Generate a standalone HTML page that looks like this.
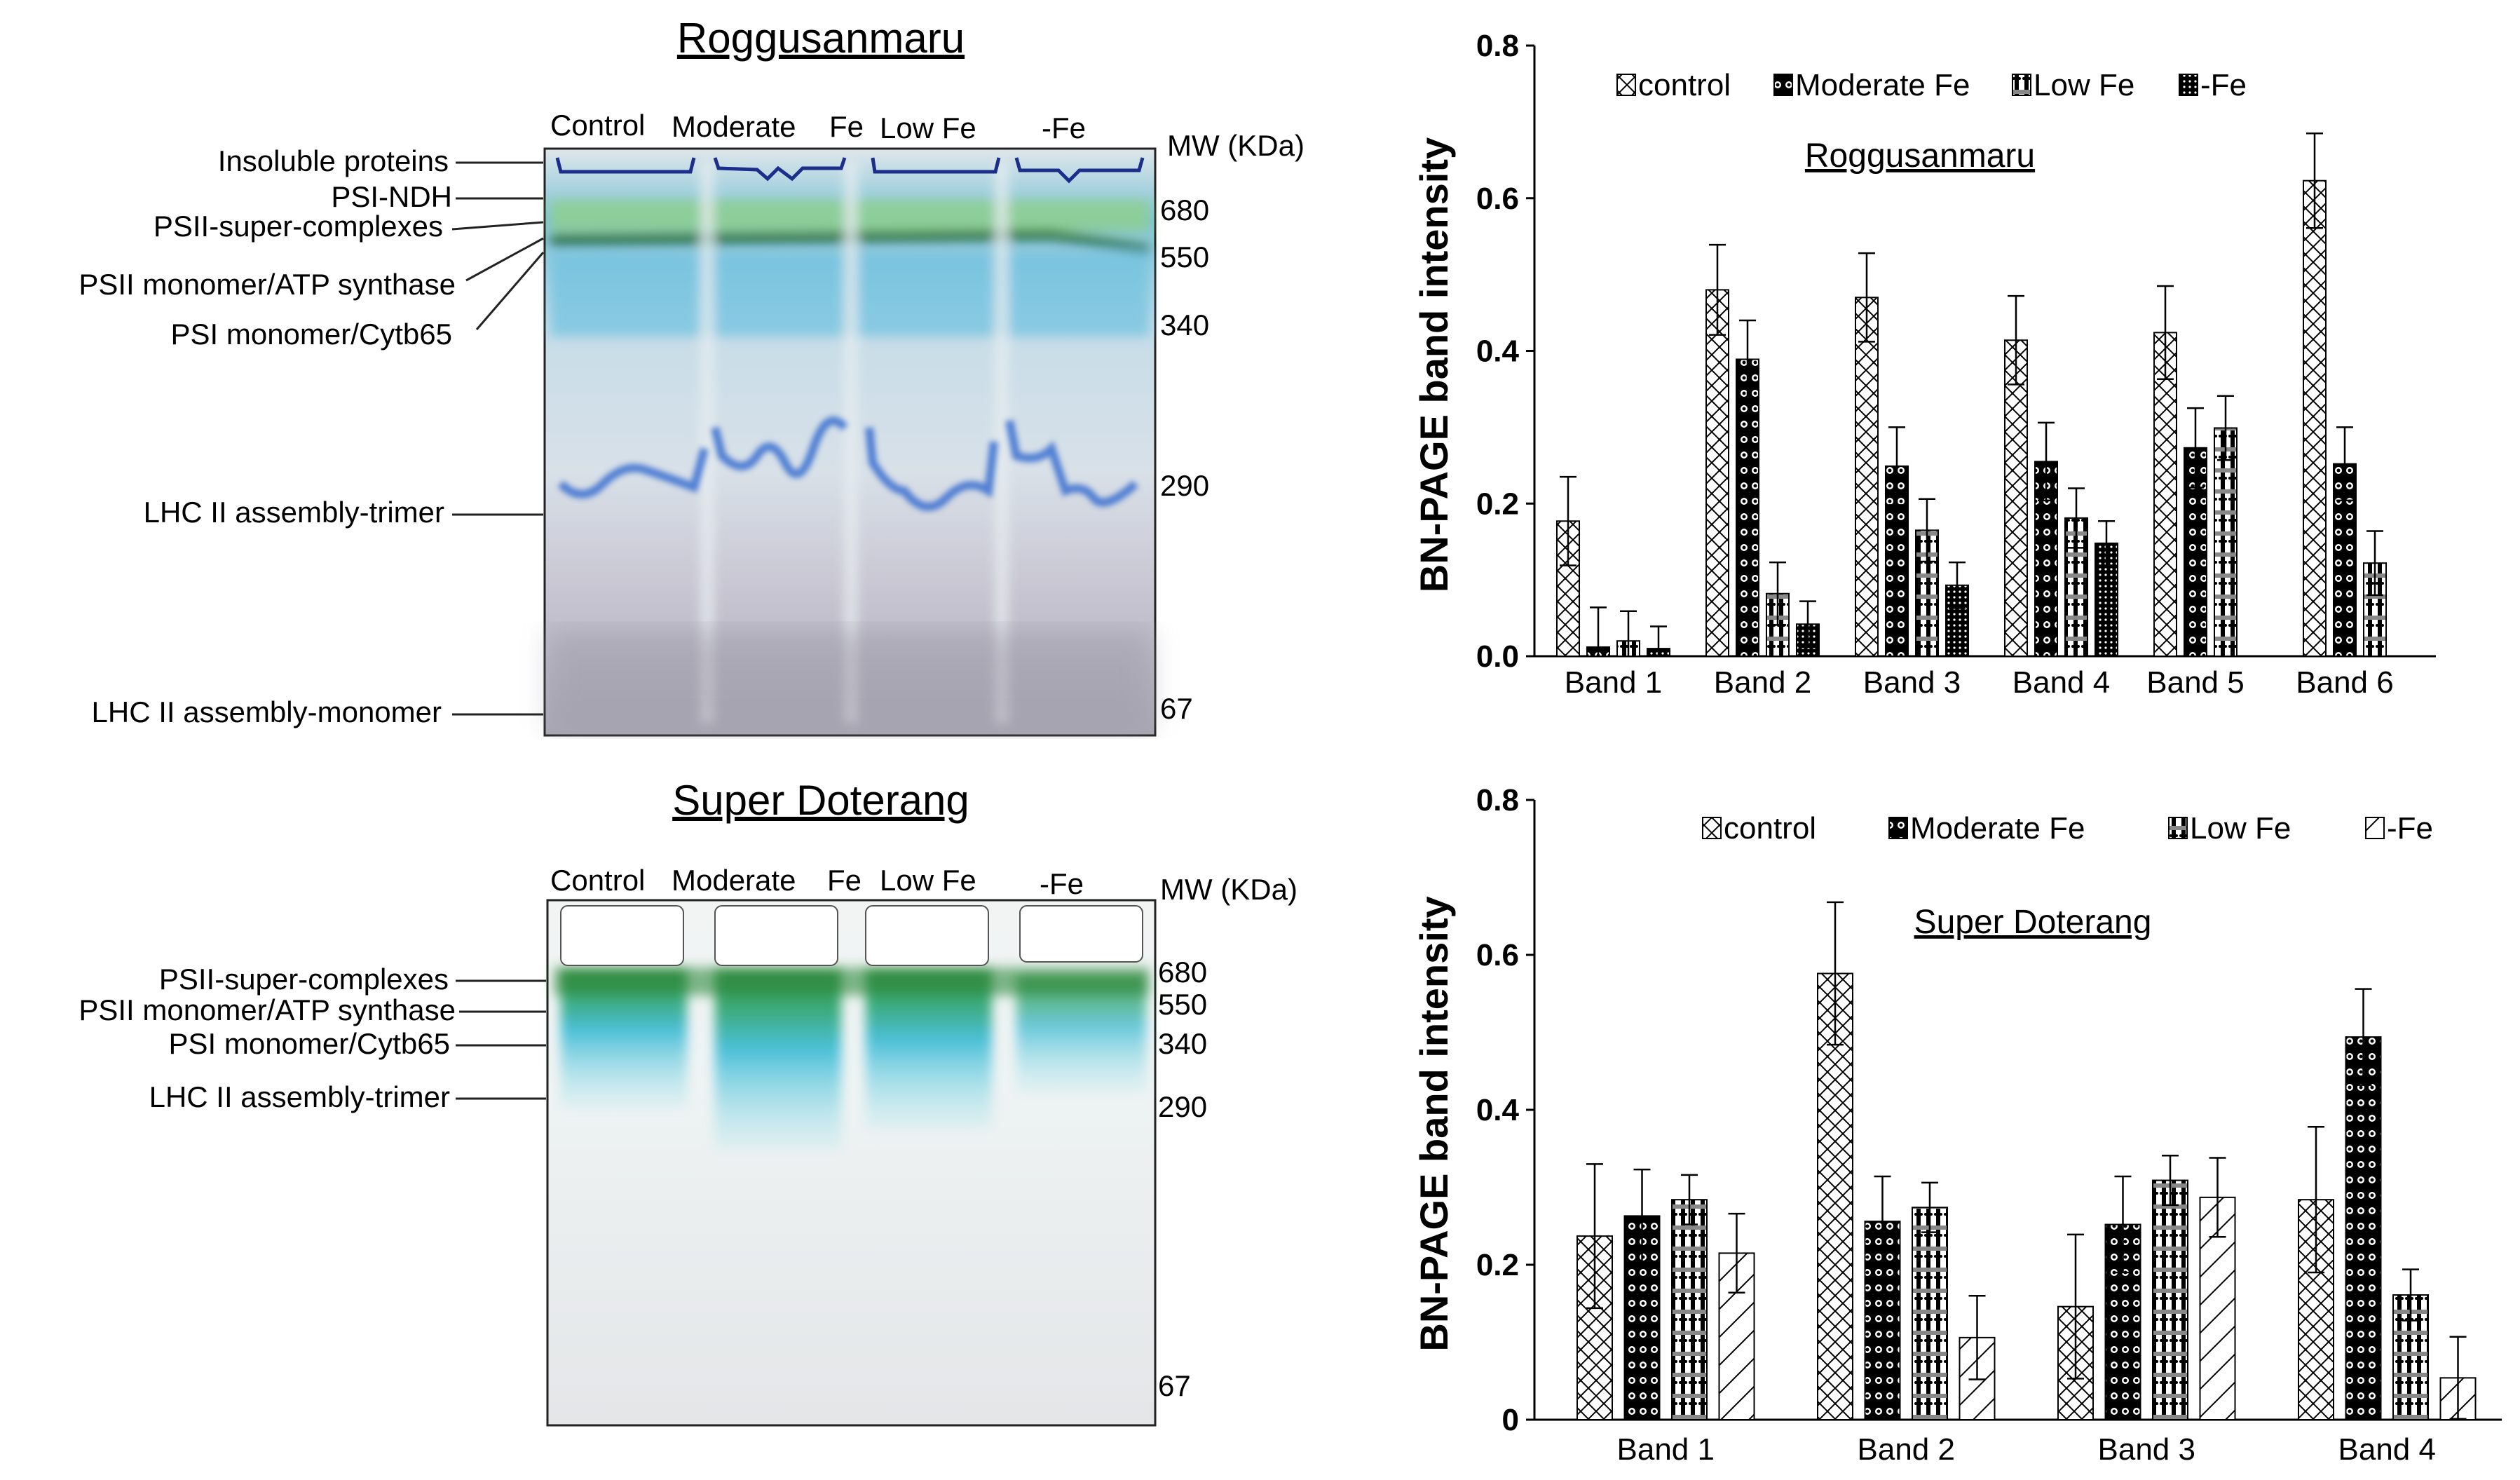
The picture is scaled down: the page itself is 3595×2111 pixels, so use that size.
<!DOCTYPE html>
<html><head><meta charset="utf-8"><style>
body{margin:0;background:#fff;}
svg{display:block;font-family:"Liberation Sans",Arial,sans-serif;}
</style></head><body>
<svg id="fig" width="3595" height="2111" viewBox="0 0 3595 2111" xmlns="http://www.w3.org/2000/svg">
<defs>
<filter id="blur8"><feGaussianBlur stdDeviation="8"/></filter>
<filter id="blur4"><feGaussianBlur stdDeviation="4"/></filter>
<filter id="blur20"><feGaussianBlur stdDeviation="20"/></filter>
<linearGradient id="gelTopBg" x1="0" y1="0" x2="0" y2="1">
<stop offset="0" stop-color="#dfe6ea"/><stop offset="0.12" stop-color="#7fc4d8"/><stop offset="0.3" stop-color="#c6dde8"/><stop offset="0.55" stop-color="#d8e0e8"/><stop offset="0.75" stop-color="#c8c6d2"/><stop offset="1" stop-color="#a9a8b4"/>
</linearGradient>
<linearGradient id="gelBotBg" x1="0" y1="0" x2="0" y2="1">
<stop offset="0" stop-color="#f2f4f4"/><stop offset="0.35" stop-color="#eef3f3"/><stop offset="1" stop-color="#e4e6e8"/>
</linearGradient>
<linearGradient id="smear" x1="0" y1="0" x2="0" y2="1">
<stop offset="0" stop-color="#2f8a3e"/><stop offset="0.2" stop-color="#3aa870"/><stop offset="0.45" stop-color="#4cc0d8"/><stop offset="1" stop-color="#bfeaf0" stop-opacity="0.3"/>
</linearGradient>
<pattern id="pCross" width="22" height="22" patternUnits="userSpaceOnUse"><rect width="22" height="22" fill="#fff"/><path d="M0,0L22,22M22,0L0,22" stroke="#000" stroke-width="2"/></pattern>
<pattern id="pCircle" width="16" height="22" patternUnits="userSpaceOnUse"><rect width="16" height="22" fill="#000"/><circle cx="8" cy="11" r="5" fill="#fff"/><circle cx="8" cy="11" r="2.5" fill="#000"/></pattern>
<pattern id="pLow" width="14" height="30" patternUnits="userSpaceOnUse"><rect width="14" height="30" fill="#fff"/><rect x="4" y="0" width="6" height="30" fill="#000"/><rect x="0" y="8" width="14" height="6" fill="#888"/><circle cx="3" cy="22" r="2" fill="#000"/><circle cx="11" cy="22" r="2" fill="#000"/></pattern>
<pattern id="pDots" width="8" height="8" patternUnits="userSpaceOnUse"><rect width="8" height="8" fill="#000"/><circle cx="4" cy="4" r="1.6" fill="#fff"/></pattern>
<pattern id="pDiag" width="40" height="40" patternUnits="userSpaceOnUse"><rect width="40" height="40" fill="#fff"/><path d="M0,40L40,0M-10,10L10,-10M30,50L50,30" stroke="#000" stroke-width="2"/></pattern>
</defs>

<g>
<text x="1171" y="75" font-size="60" text-anchor="middle" text-decoration="underline">Roggusanmaru</text>
<rect x="777" y="212" width="871" height="837" fill="url(#gelTopBg)" stroke="#222" stroke-width="3"/>
<g filter="url(#blur8)">
<rect x="785" y="285" width="855" height="45" fill="#8fd08a" opacity="0.8"/>
<path d="M785,335 L1500,328 L1640,350 L1640,360 L1500,342 L785,350 Z" fill="#1d6a3a"/>
<rect x="785" y="360" width="855" height="120" fill="#6cc0e0" opacity="0.7"/>
<rect x="1000" y="230" width="18" height="800" fill="#e8eef0" opacity="0.8"/>
<rect x="1205" y="230" width="18" height="800" fill="#e8eef0" opacity="0.8"/>
<rect x="1420" y="230" width="18" height="800" fill="#e8eef0" opacity="0.8"/>
</g>
<g fill="none" stroke="#3a6fd0" stroke-width="12" opacity="0.85" filter="url(#blur4)">
<path d="M800,690 Q830,720 860,690 T920,670 T990,695 L1005,640"/>
<path d="M1020,610 L1030,650 Q1060,680 1080,650 T1120,660 T1160,640 T1205,610"/>
<path d="M1240,610 L1245,660 Q1270,700 1290,700 Q1320,740 1350,710 T1410,700 L1418,630"/>
<path d="M1440,600 L1450,650 Q1480,660 1500,640 L1520,700 Q1545,690 1560,710 T1620,690"/>
</g>
<g fill="none" stroke="#1a2e8a" stroke-width="5">
<path d="M795,225 L800,245 L985,245 L990,225"/>
<path d="M1020,225 L1025,240 L1080,242 L1095,255 L1110,240 L1130,255 L1145,240 L1200,240 L1205,225"/>
<path d="M1245,225 L1248,245 L1420,245 L1425,225"/>
<path d="M1450,225 L1455,243 L1510,243 L1525,258 L1540,243 L1625,243 L1630,225"/>
</g>
<rect x="785" y="900" width="855" height="140" fill="#9e9aa8" opacity="0.5" filter="url(#blur20)"/>
<g font-size="42">
<text x="785" y="193">Control</text><text x="958" y="195">Moderate</text><text x="1183" y="195">Fe</text><text x="1255" y="197">Low Fe</text><text x="1486" y="197">-Fe</text>
<text x="1665" y="222">MW (KDa)</text>
</g>
<g font-size="42">
<text x="1655" y="314">680</text><text x="1655" y="381">550</text><text x="1655" y="478">340</text><text x="1655" y="707">290</text><text x="1655" y="1025">67</text>
</g>
<g font-size="42" text-anchor="end">
<text x="640" y="244">Insoluble  proteins</text>
<text x="645" y="295">PSI-NDH</text>
<text x="632" y="337">PSII-super-complexes</text>
<text x="650" y="420">PSII monomer/ATP  synthase</text>
<text x="645" y="491">PSI monomer/Cytb65</text>
<text x="634" y="745">LHC II assembly-trimer</text>
<text x="630" y="1030">LHC II assembly-monomer</text>
</g>
<g stroke="#222" stroke-width="3">
<line x1="650" y1="232" x2="775" y2="232"/><line x1="650" y1="283" x2="775" y2="283"/>
<line x1="645" y1="327" x2="775" y2="317"/><line x1="665" y1="400" x2="775" y2="340"/>
<line x1="680" y1="470" x2="775" y2="360"/><line x1="645" y1="734" x2="775" y2="734"/>
<line x1="645" y1="1019" x2="775" y2="1019"/>
</g>
</g>

<g>
<text x="1171" y="1162" font-size="60" text-anchor="middle" text-decoration="underline">Super Doterang</text>
<rect x="781" y="1284" width="867" height="749" fill="url(#gelBotBg)" stroke="#222" stroke-width="3"/>
<g filter="url(#blur8)">
<rect x="800" y="1380" width="180" height="200" fill="url(#smear)"/>
<rect x="1020" y="1380" width="180" height="260" fill="url(#smear)"/>
<rect x="1235" y="1380" width="180" height="230" fill="url(#smear)"/>
<rect x="1450" y="1390" width="185" height="170" fill="url(#smear)" opacity="0.8"/>
<rect x="790" y="1380" width="850" height="40" fill="#2f8a3e" opacity="0.6"/>
</g>
<g fill="#fff" stroke="#555" stroke-width="2">
<rect x="800" y="1292" width="175" height="85" rx="10"/>
<rect x="1020" y="1292" width="175" height="85" rx="10"/>
<rect x="1235" y="1292" width="175" height="85" rx="10"/>
<rect x="1455" y="1292" width="175" height="80" rx="10"/>
</g>
<g font-size="42">
<text x="785" y="1270">Control</text><text x="958" y="1270">Moderate</text><text x="1180" y="1270">Fe</text><text x="1255" y="1270">Low Fe</text><text x="1483" y="1275">-Fe</text>
<text x="1655" y="1283">MW (KDa)</text>
</g>
<g font-size="42">
<text x="1652" y="1401">680</text><text x="1652" y="1447">550</text><text x="1652" y="1503">340</text><text x="1652" y="1593">290</text><text x="1652" y="1991">67</text>
</g>
<g font-size="42" text-anchor="end">
<text x="640" y="1411">PSII-super-complexes</text>
<text x="650" y="1455">PSII monomer/ATP  synthase</text>
<text x="642" y="1503">PSI monomer/Cytb65</text>
<text x="642" y="1579">LHC II assembly-trimer</text>
</g>
<g stroke="#222" stroke-width="3">
<line x1="650" y1="1399" x2="779" y2="1399"/><line x1="655" y1="1443" x2="779" y2="1443"/>
<line x1="650" y1="1491" x2="779" y2="1491"/><line x1="650" y1="1567" x2="779" y2="1567"/>
</g>
</g>

<g id="chartTop"></g>
<g id="chartBot"></g>
</svg>
<script>
// ---- Top chart data (Roggusanmaru) ----
const topBands = ["Band 1","Band 2","Band 3","Band 4","Band 5","Band 6"];
const topControl  = [0.177,0.480,0.470,0.414,0.424,0.623];
const topModerate = [0.012,0.389,0.249,0.255,0.273,0.252];
const topLow      = [0.020,0.082,0.165,0.181,0.299,0.122];
const topMinus    = [0.010,0.042,0.093,0.148,null,null];
const topControlErr  = [0.058,0.059,0.058,0.058,0.061,0.062];
const topModerateErr = [0.052,0.051,0.051,0.051,0.052,0.048];
const topLowErr      = [0.039,0.041,0.041,0.039,0.042,0.042];
const topMinusErr    = [0.029,0.030,0.030,0.029,null,null];
const topTicks = ["0.0","0.2","0.4","0.6","0.8"];
// ---- Bottom chart data (Super Doterang) ----
const botBands = ["Band 1","Band 2","Band 3","Band 4"];
const botControl  = [0.237,0.576,0.146,0.284];
const botModerate = [0.263,0.256,0.252,0.494];
const botLow      = [0.284,0.274,0.309,0.161];
const botMinus    = [0.215,0.106,0.287,0.054];
const botControlErr  = [0.093,0.092,0.093,0.094];
const botModerateErr = [0.060,0.058,0.062,0.062];
const botLowErr      = [0.032,0.032,0.032,0.033];
const botMinusErr    = [0.051,0.054,0.051,0.053];
const botTicks = ["0","0.2","0.4","0.6","0.8"];
const seriesNames = ["control","Moderate Fe","Low Fe","-Fe"];

const NS="http://www.w3.org/2000/svg";
function mk(tag, attrs, parent){const e=document.createElementNS(NS,tag);for(const k in attrs)e.setAttribute(k,attrs[k]);parent.appendChild(e);return e;}

function drawChart(g, cfg){
  const y = v => cfg.y0 - v/0.8*(cfg.y0-cfg.y8);
  const x = (gi,si) => cfg.gx0 + gi*cfg.gstep + si*cfg.slot;
  const ya=mk('line',{x1:cfg.ax,y1:cfg.y8,x2:cfg.ax,y2:cfg.y0,stroke:'#000','stroke-width':3},g);
  
  
  const xa=mk('line',{x1:cfg.ax,y1:cfg.y0,x2:cfg.axEnd,y2:cfg.y0,stroke:'#000','stroke-width':3},g);
  
  
  cfg.ticks.forEach((t,i)=>{
    const v=i*0.2;
    mk('line',{x1:cfg.ax-12,y1:y(v),x2:cfg.ax,y2:y(v),stroke:'#000','stroke-width':3},g);
    const tx=mk('text',{x:cfg.ax-22,y:y(v)+15,'font-size':44,'font-weight':'bold','text-anchor':'end'},g);
    tx.textContent=t;
    
    
  });
  const yt=mk('text',{x:0,y:0,'font-size':56,'font-weight':'bold','text-anchor':'middle',transform:`translate(${cfg.ytx},${(cfg.y0+cfg.y8)/2+20}) rotate(-90)`},g);
  yt.textContent='BN-PAGE  band intensity';
  
  
  const fills=cfg.fills;
  cfg.series.forEach((vals,si)=>{
    vals.forEach((v,gi)=>{
      if(v===null)return;
      const bx=x(gi,si), by=y(v);
      const r=mk('rect',{x:bx,y:by,width:cfg.bw,height:cfg.y0-by,fill:fills[si],stroke:'#000','stroke-width':2},g);
      
      
      const e=cfg.errs[si][gi];
      const cx=bx+cfg.bw/2;
      const lo=Math.max(0,v-e);
      let d=`M${cx},${y(lo)}V${y(v+e)}M${cx-12},${y(v+e)}H${cx+12}`;
      if(v-e>0) d+=`M${cx-12},${y(v-e)}H${cx+12}`;
      const el=mk('path',{d:d,stroke:'#000','stroke-width':2.5,fill:'none'},g);
      
      
    });
  });
  cfg.bands.forEach((b,gi)=>{
    const nb=cfg.series.filter(s=>s[gi]!==null).length;
    const cx=x(gi,0)+((nb-1)*cfg.slot+cfg.bw)/2;
    const t=mk('text',{x:cx,y:cfg.bandY,'font-size':44,'text-anchor':'middle'},g);
    t.textContent=b;
    
    
  });
  cfg.legendX.forEach((lx,si)=>{
    const sw=mk('rect',{x:lx,y:cfg.legY-30,width:26,height:30,fill:fills[si],stroke:'#000','stroke-width':2},g);
    
    
    const t=mk('text',{x:lx+30,y:cfg.legY,'font-size':44},g);
    t.textContent=seriesNames[si];
    
    
  });
  const tt=mk('text',{x:cfg.titleX,y:cfg.titleY,'font-size':48,'text-anchor':'middle','text-decoration':'underline'},g);
  tt.textContent=cfg.title;
  
  
}

drawChart(document.getElementById('chartTop'),{
  ax:2189, axEnd:3475, y0:936, y8:65, gx0:2221, gstep:213, slot:43, bw:32,
  ticks:topTicks, bands:topBands, series:[topControl,topModerate,topLow,topMinus],
  errs:[topControlErr,topModerateErr,topLowErr,topMinusErr],
  fills:['url(#pCross)','url(#pCircle)','url(#pLow)','url(#pDots)'],
  ytx:2065, bandY:988, legY:136, legendX:[2307,2531,2871,3109],
  title:'Roggusanmaru', titleX:2739, titleY:238
});
drawChart(document.getElementById('chartBot'),{
  ax:2189, axEnd:3569, y0:2025, y8:1141, gx0:2250, gstep:343, slot:67.5, bw:50,
  ticks:botTicks, bands:botBands, series:[botControl,botModerate,botLow,botMinus],
  errs:[botControlErr,botModerateErr,botLowErr,botMinusErr],
  fills:['url(#pCross)','url(#pCircle)','url(#pLow)','url(#pDiag)'],
  ytx:2065, bandY:2082, legY:1196, legendX:[2429,2695,3094,3375],
  title:'Super Doterang', titleX:2900, titleY:1331
});
</script>
</body></html>
